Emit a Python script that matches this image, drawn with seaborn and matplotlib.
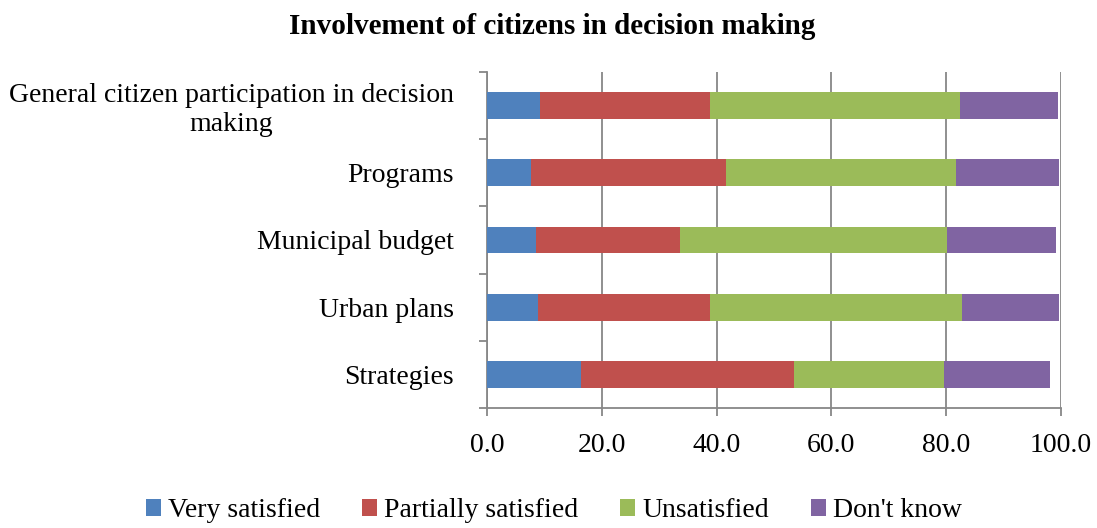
import matplotlib
matplotlib.use("Agg")
import matplotlib.pyplot as plt
from matplotlib.patches import Patch
import seaborn as sns
import pandas as pd
import numpy as np

categories = [
    "General citizen participation in decision\nmaking",
    "Programs",
    "Municipal budget",
    "Urban plans",
    "Strategies",
]
series_names = ["Very satisfied", "Partially satisfied", "Unsatisfied", "Don't know"]
very_satisfied = [9.2, 7.6, 8.6, 8.8, 16.4]
partially_satisfied = [29.7, 34.1, 25.1, 30.1, 37.1]
unsatisfied = [43.6, 40.1, 46.4, 43.8, 26.2]
dont_know = [17.0, 17.8, 19.1, 16.9, 18.5]
colors = ["#4F81BD", "#C0504D", "#9BBB59", "#8064A2"]
x_ticks = [0, 20, 40, 60, 80, 100]

sns.set_theme(style="white")
plt.rcParams["font.family"] = ["Liberation Serif", "DejaVu Serif"]

fig = plt.figure(figsize=(10.97, 5.28), dpi=100)
ax = fig.add_axes([0.444, 0.227, 0.523, 0.637])

df = pd.DataFrame({
    "category": categories,
    series_names[0]: very_satisfied,
    series_names[1]: partially_satisfied,
    series_names[2]: unsatisfied,
    series_names[3]: dont_know,
})
cum = df[series_names].cumsum(axis=1).assign(category=categories)

# stacked bars: draw the longest cumulative segment first, shorter ones on top
for name, col in reversed(list(zip(series_names, colors))):
    sns.barplot(data=cum, x=name, y="category", order=categories, orient="h",
                color=col, width=0.4, saturation=1, linewidth=0, ax=ax,
                legend=False, zorder=3)

ax.set_xlim(0, 100)
ax.set_ylim(len(categories) - 0.5, -0.5)
ax.set_xticks(x_ticks)
ax.set_xticklabels([f"{v:.1f}" for v in x_ticks], fontsize=20)
ax.set_xlabel("")
ax.set_ylabel("")
ax.tick_params(axis="y", which="major", labelsize=20, length=0, pad=24, left=True)
for lbl in ax.get_yticklabels():
    lbl.set_multialignment("center")
    lbl.set_color("black")
for lbl in ax.get_xticklabels():
    lbl.set_color("black")

# category boundary ticks on the value axis
ax.set_yticks(np.arange(-0.5, len(categories), 1.0), minor=True)
ax.tick_params(axis="y", which="minor", left=True, length=6, width=1.3,
               color="#878787", direction="out")
ax.tick_params(axis="x", bottom=True, length=6, width=1.3, color="#878787",
               direction="out", pad=12)

ax.grid(axis="x", color="#878787", linewidth=1.3, zorder=0)
ax.set_axisbelow(True)
for side in ["top", "right"]:
    ax.spines[side].set_visible(False)
for side in ["left", "bottom"]:
    ax.spines[side].set_color("#878787")
    ax.spines[side].set_linewidth(1.3)

fig.suptitle("Involvement of citizens in decision making", x=0.503, y=0.975,
             fontsize=21, fontweight="bold", color="black")

handles = [Patch(facecolor=c, edgecolor="none") for c in colors]
fig.legend(handles, series_names, loc="lower center", bbox_to_anchor=(0.505, -0.038),
           ncol=4, frameon=False, fontsize=20, handlelength=0.55, handleheight=0.55,
           handletextpad=0.25, columnspacing=1.5, labelcolor="black")

fig.savefig("out.png", dpi=100)
